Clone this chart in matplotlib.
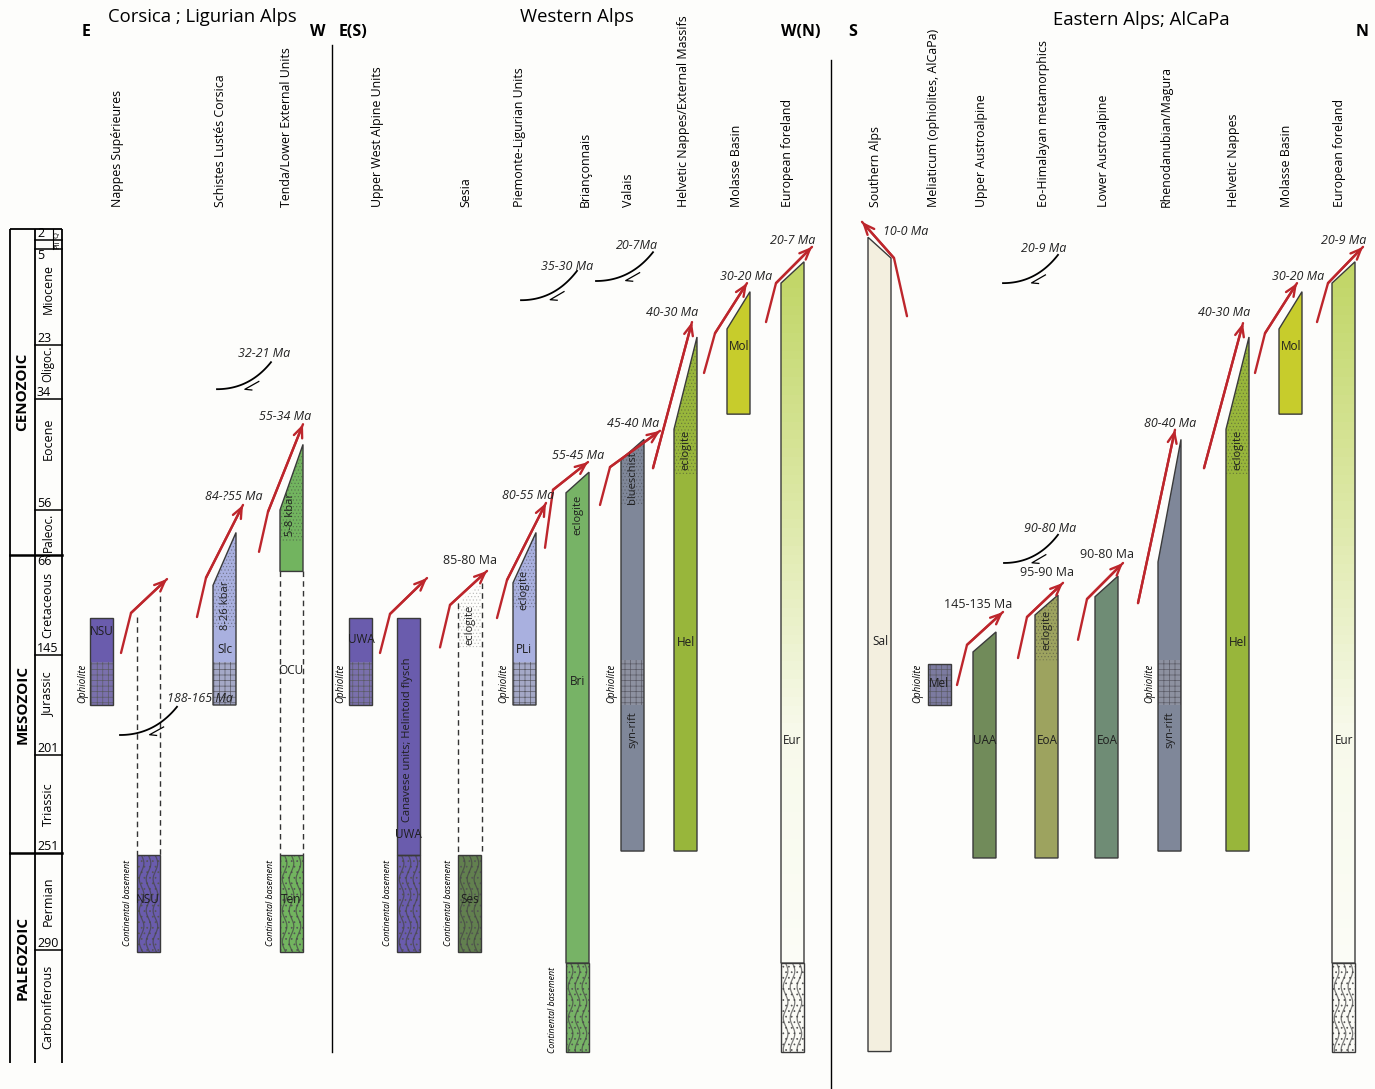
import numpy as np
import matplotlib
matplotlib.use("Agg")
import matplotlib.pyplot as plt
from matplotlib.patches import Polygon, Rectangle
from matplotlib.colors import LinearSegmentedColormap

plt.rcParams["font.family"] = ["Open Sans", "DejaVu Sans"]
plt.rcParams["hatch.linewidth"] = 0.5

# ---------------- data ----------------
# geological time scale (Ma) and where the boundaries sit on the page
AGE_B = [0, 2, 5, 23, 34, 56, 66, 145, 201, 251, 290, 359]
Y_B = [229, 240, 249, 345, 399, 510, 555, 655, 755, 853, 950, 1063]
PERIODS = ["Q", "Pli", "Miocene", "Oligoc.", "Eocene", "Paleoc.", "Cretaceous",
           "Jurassic", "Triassic", "Permian", "Carboniferous"]
BOUND_LABELS = ["2", "5", "23", "34", "56", "66", "145", "201", "251", "290"]
ERAS = ["CENOZOIC", "MESOZOIC", "PALEOZOIC"]
ERA_LIMITS = [0, 66, 251, 359]

REGIONS = ["Corsica ; Ligurian Alps", "Western Alps", "Eastern Alps; AlCaPa"]
DIRECTIONS = ["E", "W", "E(S)", "W(N)", "S", "N"]
UNIT_NAMES = ["Nappes Supérieures", "Schistes Lustés Corsica", "Tenda/Lower External Units",
              "Upper West Alpine Units", "Sesia", "Piemonte-Ligurian Units", "Briançonnais",
              "Valais", "Helvetic Nappes/External Massifs", "Molasse Basin", "European foreland",
              "Southern Alps", "Meliaticum (ophiolites, AlCaPa)", "Upper Austroalpine",
              "Eo-Himalayan metamorphics", "Lower Austroalpine", "Rhenodanubian/Magura",
              "Helvetic Nappes", "Molasse Basin", "European foreland"]

# unit bodies: top-left age, top-right age, base age
BODY_CODES = ["Slc", "Ten", "Can", "PLi", "Bri", "Val", "HelW", "MolW", "EurW", "Sal",
              "UAA", "EoH", "LAA", "Rhe", "HelE", "MolE", "EurE"]
BODY_TOP_L = [90, 56, 116, 88, 52.6, 46, 40, 20, 11.4, 1.5, 142.6, 113.4, 99, 71.5, 40, 20, 11.4]
BODY_TOP_R = [61, 43, 116, 61, 48.5, 42, 21.5, 13, 7.4, 6.7, 126.8, 97.6, 82.6, 42, 21.5, 13, 7.4]
BODY_BASE = [173, 79, 252, 173, 298, 250, 250, 37, 298, 352, 253, 253, 253, 250, 250, 37, 298]

# high-pressure (stippled) parts: lower age limit
STIPPLE_BASE = {"Slc": 123, "Ten": 63, "PLi": 108, "Val": 55, "HelW": 49, "HelE": 49, "EoH": 148}
# ophiolite (brick) intervals inside bodies
BRICK_IN = {"Slc": (149, 173), "PLi": (149, 173), "Val": (148, 173), "Rhe": (148, 173)}

# separate ophiolite boxes: top, brick top, base
OPH_CODES = ["NSU", "UWA", "Mel"]
OPH_TOP = [116, 116, 150]
OPH_BRICK = [149, 149, 150]
OPH_BASE = [173, 173, 173]

# continental basement boxes
BASEMENT_CODES = ["NSU", "Ten", "Can", "Ses", "Bri", "EurW", "EurE"]
BASEMENT_TOP = [252, 252, 252, 252, 298, 298, 298]
BASEMENT_BASE = [291, 291, 291, 291, 352, 352, 352]

# dashed (eroded / unexposed) column edges: top age
DASH_TOP = {"NSU": (115, 98), "Ten": (79, 79), "Ses": (104, 88)}
SESIA_ECLOGITE = (104, 88, 139)

# thrust arrows (x on page, age)
ARROW_X = [[121, 131, 167], [197, 206, 243], [259, 268, 303], [380, 390, 427],
           [440, 450, 487], [497, 507, 546], [545, 553, 588], [600, 610, 660],
           [653, 692], [704, 715, 747], [766, 776, 812], [907, 894, 862],
           [957, 967, 1003], [1018, 1027, 1063], [1078, 1087, 1123], [1138, 1175],
           [1204, 1243], [1255, 1265, 1297], [1317, 1328, 1363]]
ARROW_AGE = [[143.4, 111.8, 85], [115, 84, 55], [65.3, 56.4, 39], [143.4, 112.6, 84.2],
             [139, 105.5, 78.6], [115.8, 85.8, 54.6], [64.4, 52, 46.5], [55, 47.5, 40.3],
             [47.7, 18.7], [28.7, 20.8, 11.4], [18.7, 11.4, 4.3], [17.6, 6.7, -1.3],
             [161.8, 137, 111], [146.7, 115, 88], [133, 100.8, 72.3], [104, 40.1],
             [47.7, 18.9], [28.7, 20.8, 11.4], [18.7, 11.4, 4.3]]
THRUST_LABELS = ["84-?55 Ma", "55-34 Ma", "85-80 Ma", "80-55 Ma", "55-45 Ma", "45-40 Ma",
                 "40-30 Ma", "30-20 Ma", "20-7 Ma", "10-0 Ma", "145-135 Ma", "95-90 Ma",
                 "90-80 Ma", "80-40 Ma", "40-30 Ma", "30-20 Ma", "20-9 Ma"]
THRUST_LABEL_AGE = [53.4, 37.4, 70.7, 53.2, 45.1, 38.8, 17, 10.1, 2, 0.4, 105.5, 80,
                    65.8, 38.8, 17, 10.1, 2]
THRUST_ITALIC = [True, True, False, True, True, True, True, True, True, True, False, False,
                 False, True, True, True, True]

# normal faults (x0, age0) -> (x1, age1)
FAULT_X0 = [120, 217, 521, 596, 1004, 1003]
FAULT_A0 = [189.8, 32, 14.6, 11, 72.3, 11.4]
FAULT_X1 = [177, 271, 577, 653, 1058, 1058]
FAULT_A1 = [174, 26.5, 9.1, 5.6, 61.5, 6.1]
FAULT_LABELS = ["188-165 Ma", "32-21 Ma", "35-30 Ma", "20-7Ma", "90-80 Ma", "20-9 Ma"]
FAULT_LABEL_AGE = [169.6, 24.8, 8.2, 3.7, 60, 4.7]

# unit abbreviations written in the columns: text, age
INNER_TEXT = ["NSU", "NSU", "8-26 kbar", "Slc", "5-8 kbar", "OCU", "Ten", "UWA",
              "Canavese units; Helintoid flysch", "UWA", "Ses", "eclogite", "eclogite", "PLi",
              "eclogite", "Bri", "blueschist", "syn-rift", "eclogite", "Hel", "Mol", "Eur",
              "Sal", "Mel", "UAA", "eclogite", "EoA", "EoA", "syn-rift", "eclogite", "Hel",
              "Mol", "Eur"]
INNER_AGE = [126.8, 269.5, 105.5, 141, 57, 153.4, 269.5, 133, 192.6, 241.8, 269.5, 121.3,
             93.6, 141, 57, 159.6, 49.6, 187, 44, 135, 23.4, 193, 134, 161, 192.6, 125,
             192.6, 192.6, 187, 44, 135, 23.4, 193]
OPH_LABEL_AGE = 161
BASEMENT_LABEL_AGE = [271, 271, 271, 271, 326.7]

# ---------------- layout / style ----------------
W, H = 1375, 1089
BG = "#fdfdfb"
RED = "#bd262c"
EDGE = "#3a3a3a"
COL_W = 23
BODY_X = [213, 280, 397, 513, 566, 621, 674, 727, 781, 868, 973, 1035, 1095, 1158,
          1226, 1279, 1332]
BODY_COLOR = {"Slc": "#a9b0df", "Ten": "#72b45f", "Can": "#6a5cad", "PLi": "#a9b0df",
              "Bri": "#77b366", "Val": "#7f8799", "HelW": "#98b63b", "MolW": "#c7cc2c",
              "EurW": None, "Sal": "#f3efdf", "UAA": "#718b5a", "EoH": "#9da35f",
              "LAA": "#6f8c75", "Rhe": "#7f8799", "HelE": "#98b63b", "MolE": "#c7cc2c",
              "EurE": None}
OPH_X = [90, 349, 928]
OPH_COLOR = {"NSU": "#6a5cad", "UWA": "#6a5cad", "Mel": "#6e6c9c"}
BASEMENT_X = [137, 280, 397, 458, 566, 781, 1332]
BASEMENT_COLOR = {"NSU": "#6a5cad", "Ten": "#72b45f", "Can": "#6a5cad", "Ses": "#62804f",
                  "Bri": "#77b366", "EurW": "#fbfbf6", "EurE": "#fbfbf6"}
DASH_X = {"NSU": (137, 160), "Ten": (280, 303), "Ses": (458, 482)}
THRUST_LABEL_X = [234, 285, 470, 528, 578, 633, 672, 746, 793, 906, 978, 1047, 1107,
                  1170, 1224, 1298, 1344]
FAULT_LABEL_X = [200, 264, 567, 637, 1050, 1044]
INNER_X = [102, 148, 226, 225, 291, 291, 291, 361, 408, 408, 470, 470, 524, 524, 578,
           578, 633, 633, 686, 686, 739, 792, 880, 939, 985, 1047, 1047, 1107, 1170, 1238,
           1238, 1291, 1344]
INNER_ROT = {"8-26 kbar", "5-8 kbar", "Canavese units; Helintoid flysch", "eclogite",
             "blueschist", "syn-rift"}
OPH_LABEL_X = [83, 341, 504, 612, 918, 1150]
BASEMENT_LABEL_X = [128, 271, 388, 449, 553]
UNIT_X = [117, 221, 287, 377, 466, 520, 585, 629, 683, 737, 788, 876, 934, 981, 1043,
          1104, 1166, 1233, 1287, 1340]
REGION_POS = [(202, 17), (577, 17), (1141, 20)]
DIR_POS = [(86, 32), (318, 32), (353, 32), (801, 32), (853, 32), (1362, 32)]

# ---------------- age scale ----------------
_s0 = (Y_B[1] - Y_B[0]) / (AGE_B[1] - AGE_B[0])
_s1 = (Y_B[-1] - Y_B[-2]) / (AGE_B[-1] - AGE_B[-2])
_ea = np.r_[AGE_B[0] - 1000, AGE_B, AGE_B[-1] + 1000]
_ey = np.r_[Y_B[0] - 1000 * _s0, Y_B, Y_B[-1] + 1000 * _s1]


def fwd(a):
    return np.interp(a, _ea, _ey)


def inv(p):
    return np.interp(p, _ey, _ea)


fig = plt.figure(figsize=(W / 100, H / 100), dpi=100, facecolor=BG)
ax = fig.add_axes([0, 0, 1, 1])
ax.set_facecolor(BG)
ax.set_yscale("function", functions=(fwd, inv))
ax.set_xlim(0, W)
ax.set_ylim(inv(H), inv(0))
ax.axis("off")


def ftext(x, y, s, **kw):
    fig.text(x / W, 1 - y / H, s, **kw)


# ---------------- time column ----------------
tc = dict(color="black", lw=1.3, solid_capstyle="butt")
for xv in (10, 35, 62):
    ax.plot([xv, xv], [AGE_B[0], AGE_B[-1]], **tc)
ax.plot([53, 53], [AGE_B[0], AGE_B[2]], color="black", lw=0.8)
ax.plot([10, 62], [AGE_B[0], AGE_B[0]], **tc)
for a in AGE_B[1:-1]:
    x0 = 10 if a in ERA_LIMITS else 35
    ax.plot([x0, 62], [a, a], color="black", lw=1.8 if a in ERA_LIMITS else 1.1)
for i, a in enumerate(AGE_B[1:-1]):
    lab = BOUND_LABELS[i]
    top = lab in ("5", "66")
    ax.text(37, a, lab, fontsize=9, ha="left", va="top" if top else "bottom")
per_shift = [0, 0, -8, -8, -16, 0, 0, -10, 0, 0, 0]
per_size = [5.5, 5.5, 9, 8.3, 9, 8.6, 9, 9, 9, 9, 9]
for i, p in enumerate(PERIODS):
    a0, a1 = AGE_B[i], AGE_B[i + 1]
    yc = (fwd(a0) + fwd(a1)) / 2 + per_shift[i]
    xc = 57.5 if i < 2 else 48
    ax.text(xc, inv(yc), p, fontsize=per_size[i], rotation=90, ha="center", va="center")
for i, e in enumerate(ERAS):
    yc = (fwd(ERA_LIMITS[i]) + fwd(ERA_LIMITS[i + 1])) / 2
    ax.text(22.5, inv(yc), e, fontsize=11, fontweight="bold", rotation=90,
            ha="center", va="center")

# ---------------- headers ----------------
for (x, y), s in zip(REGION_POS, REGIONS):
    ftext(x, y, s, fontsize=13.3, ha="center", va="center")
for (x, y), s in zip(DIR_POS, DIRECTIONS):
    ftext(x, y, s, fontsize=11.5, fontweight="bold", ha="center", va="center")
for x, s in zip(UNIT_X, UNIT_NAMES):
    ftext(x, 207, s, fontsize=8.9, rotation=90, ha="center", va="bottom")
ax.plot([332, 332], [inv(45), inv(1052)], color="black", lw=1)
ax.plot([831, 831], [inv(60), inv(H)], color="black", lw=1)

# ---------------- drawing helpers ----------------


def stipple(x, top_l, top_r, base, color="#3a3a3a"):
    ax.add_patch(Polygon([(x, base), (x, top_l), (x + COL_W, top_r), (x + COL_W, base)],
                         closed=True, facecolor="none", edgecolor=color, hatch=".....",
                         lw=0, alpha=0.4, zorder=3))


def bricks(x, top, base, face):
    ax.add_patch(Rectangle((x, top), COL_W, base - top, facecolor=face, lw=0, zorder=3))
    ax.add_patch(Rectangle((x, top), COL_W, base - top, facecolor="none",
                           edgecolor="#5b5b66", hatch="+++", lw=0, zorder=3))


def light(c, f=0.25):
    rgb = np.array(matplotlib.colors.to_rgb(c))
    return rgb + (np.array([0.62, 0.62, 0.66]) - rgb) * f


def wavy(x, top, base, face):
    r = Rectangle((x, top), COL_W, base - top, facecolor=face, edgecolor="#555555",
                  hatch="...", lw=0, zorder=2)
    ax.add_patch(r)
    yy = np.linspace(fwd(top), fwd(base), 200)
    for off in (0.2, 0.5, 0.8):
        xx = x + COL_W * (off + 0.1 * np.sin((yy - yy[0]) / 5.0))
        ln, = ax.plot(xx, inv(yy), color="#444444", lw=0.9, alpha=0.7, zorder=3)
        ln.set_clip_path(r)
    ax.add_patch(Rectangle((x, top), COL_W, base - top, facecolor="none",
                           edgecolor=EDGE, lw=1, zorder=4))


# ---------------- unit bodies ----------------
eur_cmap = LinearSegmentedColormap.from_list("eur", ["#c0d565", "#dbe7a3", "#f7f9ea", "#fbfcf6"])
for code, x, tl, tr, b in zip(BODY_CODES, BODY_X, BODY_TOP_L, BODY_TOP_R, BODY_BASE):
    pts = [(x, b), (x, tl), (x + COL_W, tr), (x + COL_W, b)]
    col = BODY_COLOR[code]
    if col is None:
        poly = Polygon(pts, closed=True, facecolor="none", edgecolor="none")
        ax.add_patch(poly)
        ag = inv(np.linspace(fwd(tr), fwd(b), 80))
        cval = np.linspace(0, 1, 79)[:, None]
        mesh = ax.pcolormesh([x, x + COL_W], ag, cval, cmap=eur_cmap, shading="flat",
                             zorder=2)
        mesh.set_clip_path(poly)
    else:
        ax.add_patch(Polygon(pts, closed=True, facecolor=col, edgecolor="none", zorder=2))
    if code in STIPPLE_BASE:
        stipple(x, tl, tr, STIPPLE_BASE[code])
    if code in BRICK_IN:
        t, bb = BRICK_IN[code]
        bricks(x, t, bb, light(col, 0.45))
    ax.add_patch(Polygon(pts, closed=True, facecolor="none", edgecolor=EDGE, lw=1,
                         zorder=4))

# Sesia eclogite patch
x_ses = DASH_X["Ses"][0]
stipple(x_ses, SESIA_ECLOGITE[0], SESIA_ECLOGITE[1], SESIA_ECLOGITE[2], color="#777777")

# ophiolite boxes
for code, x, t, bt, b in zip(OPH_CODES, OPH_X, OPH_TOP, OPH_BRICK, OPH_BASE):
    ax.add_patch(Rectangle((x, t), COL_W, b - t, facecolor=OPH_COLOR[code], lw=0, zorder=2))
    bricks(x, bt, b, light(OPH_COLOR[code], 0.3))
    ax.add_patch(Rectangle((x, t), COL_W, b - t, facecolor="none", edgecolor=EDGE, lw=1,
                           zorder=4))

# basements
for code, x, t, b in zip(BASEMENT_CODES, BASEMENT_X, BASEMENT_TOP, BASEMENT_BASE):
    wavy(x, t, b, BASEMENT_COLOR[code])

# dashed edges
for code, (ta, tb) in DASH_TOP.items():
    xa, xb = DASH_X[code]
    ax.plot([xa, xa], [ta, BASEMENT_TOP[0]], color="#333333", lw=1, ls=(0, (4, 3)), zorder=3)
    ax.plot([xb, xb], [tb, BASEMENT_TOP[0]], color="#333333", lw=1, ls=(0, (4, 3)), zorder=3)

# ---------------- thrusts ----------------
for xs, ags in zip(ARROW_X, ARROW_AGE):
    ax.plot(xs, ags, color=RED, lw=1.7, zorder=6, solid_capstyle="round",
            solid_joinstyle="miter")
    ax.annotate("", xy=(xs[-1], ags[-1]), xytext=(xs[-2], ags[-2]),
                arrowprops=dict(arrowstyle="->,head_length=0.75,head_width=0.32",
                                color=RED, lw=1.7, shrinkA=0, shrinkB=0), zorder=6)
for x, a, s, it in zip(THRUST_LABEL_X, THRUST_LABEL_AGE, THRUST_LABELS, THRUST_ITALIC):
    ax.text(x, a, s, fontsize=9, style="italic" if it else "normal", ha="center",
            va="center", color="#222222", zorder=7)

# ---------------- normal faults ----------------
for x0, a0, x1, a1 in zip(FAULT_X0, FAULT_A0, FAULT_X1, FAULT_A1):
    y0, y1 = fwd(a0), fwd(a1)
    t = np.linspace(0, 1, 50)
    cx, cy = x0 + 0.6 * (x1 - x0), y0
    px = (1 - t) ** 2 * x0 + 2 * (1 - t) * t * cx + t ** 2 * x1
    py = (1 - t) ** 2 * y0 + 2 * (1 - t) * t * cy + t ** 2 * y1
    ax.plot(px, inv(py), color="black", lw=1.3, zorder=6)
    tm = 0.55
    mx = (1 - tm) ** 2 * x0 + 2 * (1 - tm) * tm * cx + tm ** 2 * x1
    my = (1 - tm) ** 2 * y0 + 2 * (1 - tm) * tm * cy + tm ** 2 * y1
    dx = 2 * (1 - tm) * (cx - x0) + 2 * tm * (x1 - cx)
    dy = 2 * (1 - tm) * (cy - y0) + 2 * tm * (y1 - cy)
    n = np.hypot(dx, dy)
    dx, dy = -dx / n, -dy / n  # pointing down-left
    nx, ny = -dy, dx
    if ny < 0:
        nx, ny = -nx, -ny
    cxm, cym = mx + nx * 5, my + ny * 5
    sx, sy = cxm - dx * 8, cym - dy * 8
    ex, ey = cxm + dx * 8, cym + dy * 8
    c30, s30 = np.cos(np.radians(35)), np.sin(np.radians(35))
    bx, by = -dx * c30 + nx * s30, -dy * c30 + ny * s30
    ax.plot([sx, ex, ex + bx * 7], inv(np.array([sy, ey, ey + by * 7])), color="black",
            lw=0.9, zorder=6)
for x, a, s in zip(FAULT_LABEL_X, FAULT_LABEL_AGE, FAULT_LABELS):
    ax.text(x, a, s, fontsize=9, style="italic", ha="center", va="center",
            color="#222222", zorder=7)

# ---------------- labels inside columns ----------------
for x, a, s in zip(INNER_X, INNER_AGE, INNER_TEXT):
    rot = 90 if s in INNER_ROT else 0
    ax.text(x, a, s, fontsize=8 if rot else 8.5, rotation=rot, ha="center", va="center",
            color="#1e1e1e", zorder=7)
for x in OPH_LABEL_X:
    ax.text(x, OPH_LABEL_AGE, "Ophiolite", fontsize=7, style="italic", rotation=90,
            ha="center", va="center", zorder=7)
for x, a in zip(BASEMENT_LABEL_X, BASEMENT_LABEL_AGE):
    ax.text(x, a, "Continental basement", fontsize=6.4, style="italic", rotation=90,
            ha="center", va="center", zorder=7)

fig.savefig("out.png", dpi=100, facecolor=BG)
